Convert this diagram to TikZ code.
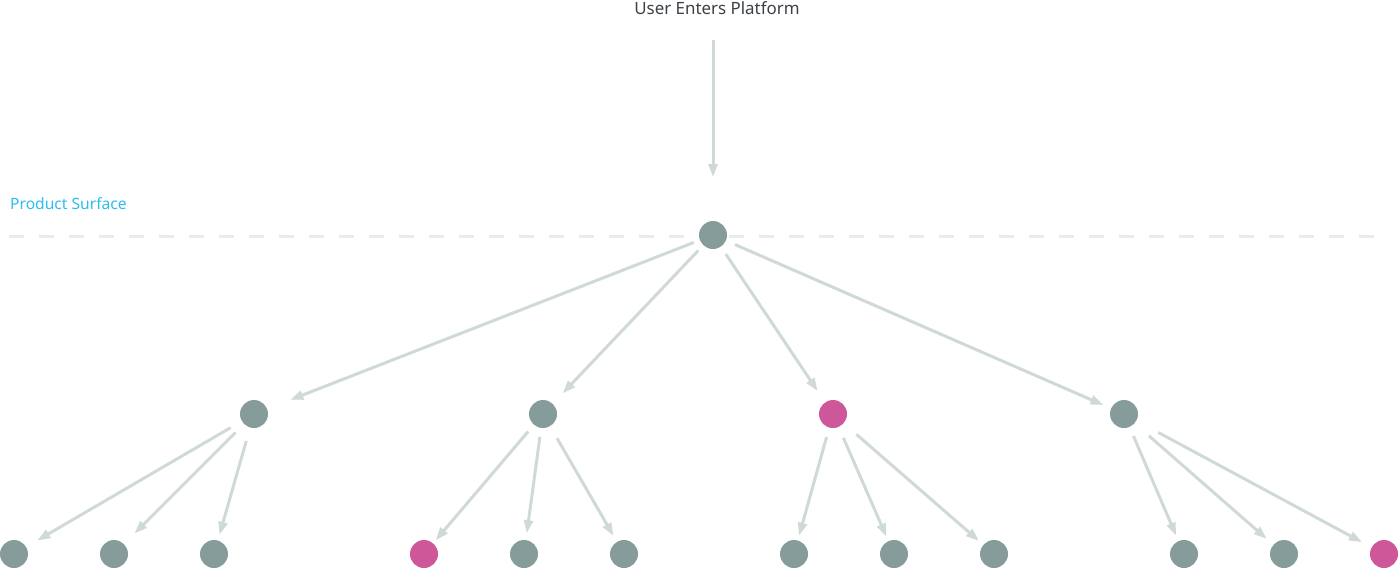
\documentclass[tikz,border=0pt]{standalone}
\usepackage{fontspec}
\setmainfont{Noto Sans}
\usetikzlibrary{arrows.meta}
\definecolor{nodegray}{HTML}{869C9A}
\definecolor{nodepink}{HTML}{CE5799}
\definecolor{edgecol}{HTML}{CFD9D7}
\definecolor{dashcol}{HTML}{E7EDEC}
\definecolor{bluetext}{HTML}{2BBDEE}
\definecolor{titletext}{HTML}{3C4146}
\tikzset{
  dot/.style={circle,fill=nodegray,draw=none,minimum size=28pt,inner sep=0pt,outer sep=0pt},
  pinkdot/.style={dot,fill=nodepink},
  edge/.style={draw=edgecol,line width=3pt,-{Triangle[length=13pt,width=9pt]}},
  surface/.style={draw=dashcol,line width=3pt,dash pattern=on 15pt off 15pt}
}
\begin{document}
\begin{tikzpicture}[x=1pt,y=-1pt]
\useasboundingbox (0,0) rectangle (1398,568);
% dashed line
\coordinate (sl) at (9.3,236);
\coordinate (sr) at (1375,236);
\draw[surface] (sl) -- (sr);
% texts
\node[font=\fontsize{16.9}{19}\selectfont,text=titletext,inner sep=0pt] (title) at (717,8) {User Enters Platform};
\node[font=\fontsize{15.6}{18}\selectfont,text=bluetext,anchor=west,inner sep=0pt] (surf) at (10,204) {Product Surface};
% nodes
\node[dot] (root) at (713,235) {};
\node[dot] (A) at (254,414) {};
\node[dot] (B) at (543,414) {};
\node[pinkdot] (C) at (833,414) {};
\node[dot] (D) at (1124,414) {};
\node[dot] (a1) at (14,554) {};
\node[dot] (a2) at (114,554) {};
\node[dot] (a3) at (214,554) {};
\node[pinkdot] (b1) at (424,554) {};
\node[dot] (b2) at (524,554) {};
\node[dot] (b3) at (624,554) {};
\node[dot] (c1) at (794,554) {};
\node[dot] (c2) at (894,554) {};
\node[dot] (c3) at (994,554) {};
\node[dot] (d1) at (1184,554) {};
\node[dot] (d2) at (1284,554) {};
\node[pinkdot] (d3) at (1384,554) {};
% top arrow
\coordinate (start) at (713,40);
\draw[edge,shorten >=44pt] (start) -- (root);
% edges
\draw[edge,shorten <=6.6pt,shorten >=25pt] (root) -- (A);
\draw[edge,shorten <=7.5pt,shorten >=14.6pt] (root) -- (B);
\draw[edge,shorten <=9pt,shorten >=13.6pt] (root) -- (C);
\draw[edge,shorten <=10pt,shorten >=8.5pt] (root) -- (D);
\draw[edge,shorten <=13pt,shorten >=13pt] (A) -- (a1);
\draw[edge,shorten <=12pt,shorten >=15pt] (A) -- (a2);
\draw[edge,shorten <=14pt,shorten >=6pt] (A) -- (a3);
\draw[edge,shorten <=9pt,shorten >=4pt] (B) -- (b1);
\draw[edge,shorten <=9pt,shorten >=7pt] (B) -- (b2);
\draw[edge,shorten <=14pt,shorten >=7pt] (B) -- (b3);
\draw[edge,shorten <=10pt,shorten >=5pt] (C) -- (c1);
\draw[edge,shorten <=12pt,shorten >=5pt] (C) -- (c2);
\draw[edge,shorten <=17pt,shorten >=6pt] (C) -- (c3);
\draw[edge,shorten <=10pt,shorten >=6pt] (D) -- (d1);
\draw[edge,shorten <=19pt,shorten >=9pt] (D) -- (d2);
\draw[edge,shorten <=25pt,shorten >=11pt] (D) -- (d3);
\end{tikzpicture}
\end{document}
